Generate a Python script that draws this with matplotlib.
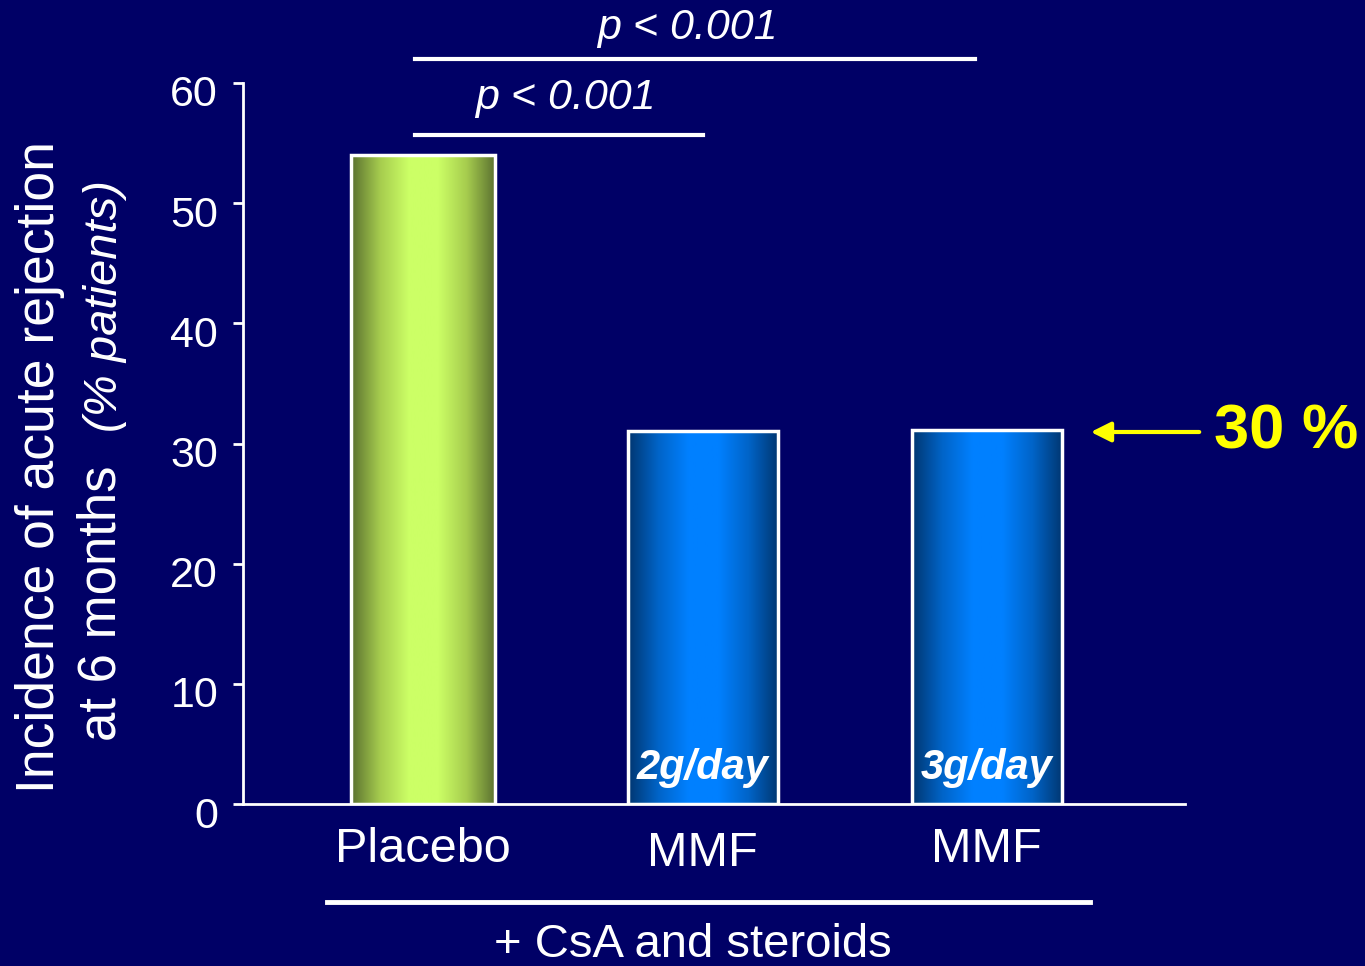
import numpy as np
import matplotlib
matplotlib.use("Agg")
import matplotlib.pyplot as plt
from matplotlib.colors import LinearSegmentedColormap
from matplotlib.patches import Rectangle, FancyArrowPatch
from matplotlib.transforms import ScaledTranslation

plt.rcParams['font.family'] = ['Liberation Sans', 'DejaVu Sans']

# data
categories = ['Placebo', 'MMF', 'MMF']
values = [54, 31, 31.1]
doses = ['', '2g/day', '3g/day']
yticks = [0, 10, 20, 30, 40, 50, 60]

bg = '#000066'
green_cmap = LinearSegmentedColormap.from_list('g', ['#5a7030', '#a6cc4e', '#ccff66', '#ccff66', '#a6cc4e', '#5a7030'],
                                               N=256)
blue_cmap = LinearSegmentedColormap.from_list('b', ['#003670', '#0064c8', '#0080ff', '#0080ff', '#0064c8', '#003670'],
                                              N=256)
cmaps = [green_cmap, blue_cmap, blue_cmap]

W, H = 1365, 966
fig = plt.figure(figsize=(W / 100, H / 100), dpi=100, facecolor=bg)
ax = fig.add_axes([243 / W, 1 - 804 / H, (1185 - 243) / W, (804 - 83) / H])
ax.set_facecolor(bg)

x = np.array([0, 0.995, 2.005])
widths = [0.515, 0.535, 0.535]
grad = np.linspace(0, 1, 256).reshape(1, -1)
for xi, v, cm, w in zip(x, values, cmaps, widths):
    ax.imshow(grad, cmap=cm, aspect='auto', extent=[xi - w / 2, xi + w / 2, 0, v], zorder=2)
    ax.add_patch(Rectangle((xi - w / 2, 0), w, v, facecolor='none', edgecolor='white', lw=2.5, zorder=3))

for xi, d in zip(x, doses):
    if d:
        ax.text(xi, 3, d, color='white', fontsize=30, fontweight='bold', fontstyle='italic',
                ha='center', va='center', zorder=4)

ax.set_xlim(-0.64, 2.71)
ax.set_ylim(0, 60)
ax.set_yticks(yticks)
ax.set_xticks([])
for s in ['top', 'right']:
    ax.spines[s].set_visible(False)
ax.spines['left'].set_color('white')
ax.spines['bottom'].set_color('white')
ax.spines['left'].set_linewidth(2)
ax.spines['bottom'].set_linewidth(2)
ax.tick_params(axis='y', colors='white', labelsize=31, length=7, width=2, pad=11)
shift = ScaledTranslation(0, -8 / 100, fig.dpi_scale_trans)
for lab in ax.get_yticklabels():
    lab.set_transform(lab.get_transform() + shift)

# category labels
label_y = [850, 853, 850]
for xi, c, ly in zip(x, categories, label_y):
    ax.text(xi, 0, c, color='white', fontsize=35, ha='center', va='center',
            transform=ax.get_xaxis_transform() + ScaledTranslation(0, -(ly - 804) / 100, fig.dpi_scale_trans))

# figure-pixel helpers for annotations
def fx(px):
    return px / W

def fy(py):
    return 1 - py / H

# y label
fig.text(fx(40), fy(467), 'Incidence of acute rejection', color='white', fontsize=38.5,
         rotation=90, ha='center', va='center')
fig.text(fx(102), fy(603), 'at 6 months', color='white', fontsize=38,
         rotation=90, ha='center', va='center')
fig.text(fx(105), fy(306), '(% patients)', color='white', fontsize=34, fontstyle='italic',
         rotation=90, ha='center', va='center')

# significance brackets
fig.add_artist(plt.Line2D([fx(415), fx(975)], [fy(59), fy(59)], color='white', lw=3))
fig.add_artist(plt.Line2D([fx(415), fx(703)], [fy(135), fy(135)], color='white', lw=3))
fig.text(fx(687), fy(28), 'p < 0.001', color='white', fontsize=31, fontstyle='italic', ha='center', va='center')
fig.text(fx(565), fy(98), 'p < 0.001', color='white', fontsize=31, fontstyle='italic', ha='center', va='center')

# bottom bracket
fig.add_artist(plt.Line2D([fx(327), fx(1090)], [fy(902), fy(902)], color='white', lw=3.5))
fig.text(fx(693), fy(945), '+ CsA and steroids', color='white', fontsize=34, ha='center', va='center')

# 30 % arrow
fig.add_artist(FancyArrowPatch((fx(1202), fy(432)), (fx(1088), fy(432)),
                               transform=fig.transFigure, arrowstyle='-|>,head_length=12,head_width=6',
                               color='#ffff00', lw=3, mutation_scale=1))
fig.text(fx(1286), fy(432), '30 %', color='#ffff00', fontsize=45.5, fontweight='bold', ha='center', va='center')

fig.savefig('out.png', dpi=100, facecolor=bg)
